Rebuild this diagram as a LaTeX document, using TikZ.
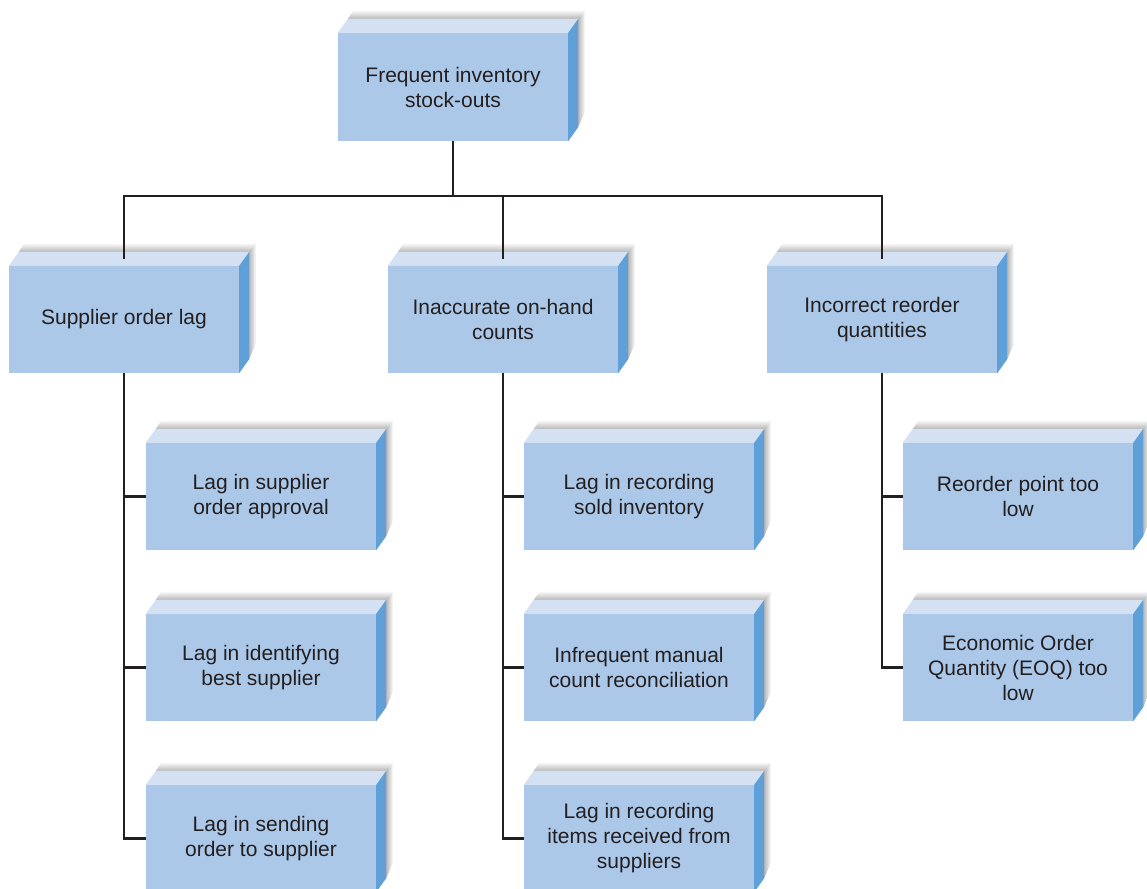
\documentclass[tikz,border=0pt]{standalone}
\usepackage{fontspec}
\setmainfont{Liberation Sans}
\usetikzlibrary{calc,backgrounds}
\definecolor{frontc}{RGB}{172,200,232}
\definecolor{topc}{RGB}{212,225,242}
\definecolor{sidec}{RGB}{94,160,215}
\definecolor{inkc}{RGB}{35,31,32}
\tikzset{
  cubebox/.style={rectangle, minimum width=230pt, minimum height=107pt, inner sep=0pt,
    fill=frontc, text=inkc, align=center, font=\fontsize{21}{25}\selectfont},
  conn/.style={draw=inkc, line width=2.4pt},
}
\begin{document}
\begin{tikzpicture}[x=1pt,y=1pt]
\useasboundingbox (0,0) rectangle (1147,-888);
% nodes (front faces)
\node[cubebox, minimum height=108pt] (top) at (453,-87) {Frequent inventory\\stock-outs};
\node[cubebox] (sup) at (124,-319.5) {Supplier order lag};
\node[cubebox] (ina) at (503,-319.5) {Inaccurate on-hand\\counts};
\node[cubebox] (inc) at (882,-319.5) {Incorrect reorder\\quantities};
\node[cubebox] (s1) at (261,-496.5) {Lag in supplier\\order approval};
\node[cubebox] (s2) at (261,-667.5) {Lag in identifying\\best supplier};
\node[cubebox] (s3) at (261,-838.5) {Lag in sending\\order to supplier};
\node[cubebox] (a1) at (639,-496.5) {Lag in recording\\sold inventory};
\node[cubebox] (a2) at (639,-667.5) {Infrequent manual\\count reconciliation};
\node[cubebox] (a3) at (639,-838.5) {Lag in recording\\items received from\\suppliers};
\node[cubebox] (c1) at (1018,-496.5) {Reorder point too\\low};
\node[cubebox] (c2) at (1018,-667.5) {Economic Order\\Quantity (EOQ) too\\low};
% 3D faces and shadows
\foreach \n in {top,sup,ina,inc,s1,s2,s3,a1,a2,a3,c1,c2} {
  \begin{scope}[on background layer]
    \shade[top color=white, bottom color=black!28]
      ($(\n.north west)+(10,14)$) -- ($(\n.north west)+(16,23)$) --
      ($(\n.north east)+(17,23)$) -- ($(\n.north east)+(10,14)$) -- cycle;
    \shade[left color=black!28, right color=white]
      ($(\n.north east)+(10,14)$) -- ($(\n.north east)+(17,23)$) --
      ($(\n.south east)+(17,30)$) -- ($(\n.south east)+(10,14)$) -- cycle;
  \end{scope}
  \fill[topc] (\n.north west) -- ($(\n.north west)+(10,14)$) --
    ($(\n.north east)+(10,14)$) -- (\n.north east) -- cycle;
  \fill[sidec] (\n.north east) -- ($(\n.north east)+(10,14)$) --
    ($(\n.south east)+(10,14)$) -- (\n.south east) -- cycle;
}
% connectors
\coordinate (bar) at (453,-196);
\draw[conn] (top.south) -- (bar);
\draw[conn, shorten >=7pt] (bar) -| (sup.north);
\draw[conn, shorten >=7pt] (bar) -| (inc.north);
\draw[conn, shorten >=7pt] (bar -| ina.north) -- (ina.north);
\draw[conn] (sup.south) |- (s3.west);
\draw[conn] (sup.south |- s1.west) -- (s1.west);
\draw[conn] (sup.south |- s2.west) -- (s2.west);
\draw[conn] (ina.south) |- (a3.west);
\draw[conn] (ina.south |- a1.west) -- (a1.west);
\draw[conn] (ina.south |- a2.west) -- (a2.west);
\draw[conn] (inc.south) |- (c2.west);
\draw[conn] (inc.south |- c1.west) -- (c1.west);
\end{tikzpicture}
\end{document}
